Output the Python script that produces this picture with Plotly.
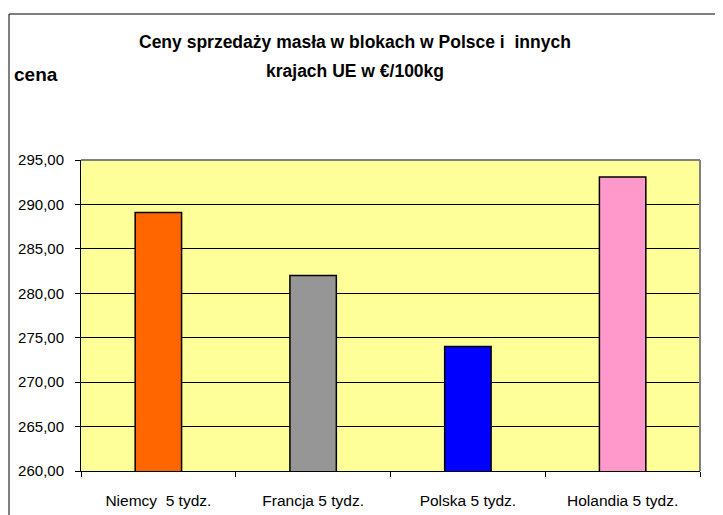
import plotly.graph_objects as go

# dane
kraje = ['Niemcy  5 tydz.', 'Francja 5 tydz.', 'Polska 5 tydz.', 'Holandia 5 tydz.']
ceny = [289.1, 282.0, 274.0, 293.1]
kolory = ['#FF6600', '#969696', '#0000FF', '#FF99CC']

# strona html ma 8px marginesu, wiec wykres jest o 8px mniejszy
W, H = 715, 507
L, T, R, B = 73, 152, 23, 44
pw, ph = W - L - R, H - T - B


def px_x(x):
    return (x - 8 - L) / pw


def px_y(y):
    return 1 + (T - (y - 8)) / ph


fig = go.Figure()
fig.add_trace(go.Bar(
    x=kraje, y=ceny,
    marker=dict(color=kolory, line=dict(color='black', width=1.5)),
))

fig.update_layout(
    width=W, height=H,
    margin=dict(l=L, r=R, t=T, b=B),
    paper_bgcolor='white',
    plot_bgcolor='#FFFF99',
    font=dict(family='Liberation Sans, Arial', size=14, color='black'),
    separators=', ',
    bargap=0.7,
    showlegend=False,
)

fig.update_yaxes(
    range=[260, 295], dtick=5, tickformat='.2f',
    showgrid=True, gridcolor='#000000', gridwidth=1,
    showline=True, linecolor='black', linewidth=1,
    ticks='outside', ticklen=5, tickcolor='black',
    ticklabelstandoff=8,
    tickfont=dict(size=15),
    zeroline=False, automargin=False,
)
fig.update_xaxes(
    showline=True, linecolor='black', linewidth=1,
    ticks='outside', ticklen=5, tickcolor='black', tickson='boundaries',
    ticklabelstandoff=15,
    tickfont=dict(size=15.5),
    automargin=False,
)

# ramka obszaru wykresu (gora i prawa strona szara)
fig.add_shape(type='line', xref='paper', yref='paper', x0=0, x1=1, y0=1, y1=1,
              line=dict(color='#808080', width=2))
fig.add_shape(type='line', xref='paper', yref='paper', x0=1, x1=1, y0=0, y1=1,
              line=dict(color='#808080', width=2))

# ramka calego wykresu
fig.add_shape(type='rect', xref='paper', yref='paper',
              x0=px_x(9), x1=1.2, y0=-0.5, y1=px_y(14),
              line=dict(color='black', width=1), layer='below')

# tytul w dwoch liniach
fig.add_annotation(text='<b>Ceny sprzedaży masła w blokach w Polsce i  innych</b>',
                   xref='paper', yref='paper', x=px_x(355), y=px_y(42),
                   showarrow=False, font=dict(size=17.5), xanchor='center', yanchor='middle')
fig.add_annotation(text='<b>krajach UE w €/100kg</b>',
                   xref='paper', yref='paper', x=px_x(355), y=px_y(71),
                   showarrow=False, font=dict(size=17.5), xanchor='center', yanchor='middle')
fig.add_annotation(text='<b>cena</b>',
                   xref='paper', yref='paper', x=px_x(12), y=px_y(74),
                   showarrow=False, font=dict(size=19), xanchor='left', yanchor='middle')

fig.write_html('out.html')
